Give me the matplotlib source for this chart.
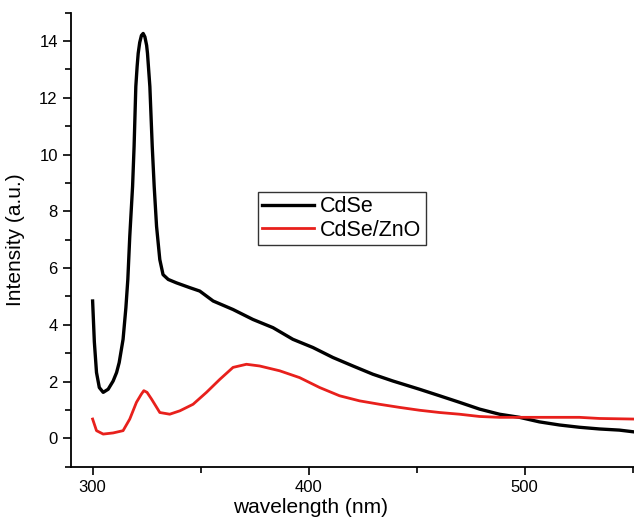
import matplotlib
matplotlib.use("Agg")
import matplotlib.pyplot as plt
from matplotlib.ticker import MultipleLocator

plt.rcParams['font.family'] = ['Liberation Sans', 'DejaVu Sans']

# CdSe (black)
cdse_x = [300.0, 300.8, 301.8, 303.1, 304.9, 307.2, 309.5, 311.1, 312.3, 314.1, 315.4,
          316.3, 317.2, 318.5, 319.2, 320.0, 320.6, 321.1, 321.8, 322.6, 323.4, 324.2,
          325.0, 325.4, 326.5, 327.6, 328.5, 329.6, 331.1, 332.6, 335.0, 338.8, 345.0,
          349.6, 355.8, 365.0, 374.2, 383.5, 392.7, 402.0, 411.2, 420.5, 429.7, 439.0,
          451.3, 460.6, 469.8, 479.1, 488.3, 497.6, 506.8, 516.1, 525.3, 534.6, 543.8,
          550.3]
cdse_y = [4.84, 3.40, 2.32, 1.79, 1.62, 1.73, 2.02, 2.32, 2.67, 3.49, 4.60,
          5.60, 7.12, 8.88, 10.29, 12.40, 13.10, 13.57, 13.95, 14.20, 14.27, 14.15,
          13.85, 13.57, 12.40, 10.29, 8.88, 7.47, 6.30, 5.77, 5.60, 5.48, 5.31,
          5.19, 4.84, 4.54, 4.19, 3.90, 3.49, 3.20, 2.85, 2.55, 2.26, 2.02,
          1.73, 1.50, 1.27, 1.03, 0.85, 0.74, 0.58, 0.47, 0.39, 0.33, 0.29,
          0.23]

# CdSe/ZnO (red)
zno_x = [300.0, 301.8, 304.9, 309.5, 314.1, 317.2, 320.3, 322.5, 323.7, 325.2, 327.3,
         331.1, 335.7, 340.4, 346.5, 352.7, 358.9, 365.0, 371.2, 377.3, 386.6, 395.8,
         405.1, 414.3, 423.6, 432.8, 442.1, 451.3, 460.6, 469.8, 479.1, 488.3, 497.6,
         506.8, 516.1, 525.3, 534.6, 550.0]
zno_y = [0.68, 0.27, 0.15, 0.19, 0.27, 0.68, 1.27, 1.55, 1.68, 1.62, 1.38,
         0.91, 0.85, 0.97, 1.20, 1.62, 2.08, 2.50, 2.61, 2.55, 2.38, 2.14,
         1.79, 1.50, 1.32, 1.20, 1.09, 0.99, 0.91, 0.85, 0.77, 0.74, 0.74,
         0.74, 0.74, 0.74, 0.70, 0.68]

x_ticks = [300, 400, 500]
y_ticks = [0, 2, 4, 6, 8, 10, 12, 14]

fig = plt.figure(figsize=(6.34, 5.2), dpi=100)
ax = fig.add_axes([0.112, 0.1025, 0.888, 0.873])

ax.plot(cdse_x, cdse_y, color='black', lw=2.4, label='CdSe',
        solid_joinstyle='round')
ax.plot(zno_x, zno_y, color='#e8201c', lw=2.0, label='CdSe/ZnO',
        solid_joinstyle='round')

ax.set_xlim(290, 550.6)
ax.set_ylim(-1, 15)
ax.set_xticks(x_ticks)
ax.set_yticks(y_ticks)
ax.xaxis.set_minor_locator(MultipleLocator(50))
ax.yaxis.set_minor_locator(MultipleLocator(1))

for s in ['top', 'right']:
    ax.spines[s].set_visible(False)
for s in ['left', 'bottom']:
    ax.spines[s].set_linewidth(1.3)

ax.tick_params(which='major', direction='out', length=6, width=1.2, labelsize=12)
ax.tick_params(which='minor', direction='out', length=4, width=1.2)

ax.set_xlabel('wavelength (nm)', fontsize=15)
ax.set_ylabel('Intensity (a.u.)', fontsize=15)
ax.xaxis.set_label_coords(0.426, -0.068)
ax.yaxis.set_label_coords(-0.082, 0.5)

leg = ax.legend(loc='upper left', bbox_to_anchor=(0.332, 0.605), fontsize=15.5,
                handlelength=2.4, handletextpad=0.3, labelspacing=0.12,
                borderpad=0.2, borderaxespad=0, fancybox=False, framealpha=1)
leg.get_frame().set_edgecolor('#333333')
leg.get_frame().set_linewidth(1.0)

fig.savefig('out.png', dpi=100)
